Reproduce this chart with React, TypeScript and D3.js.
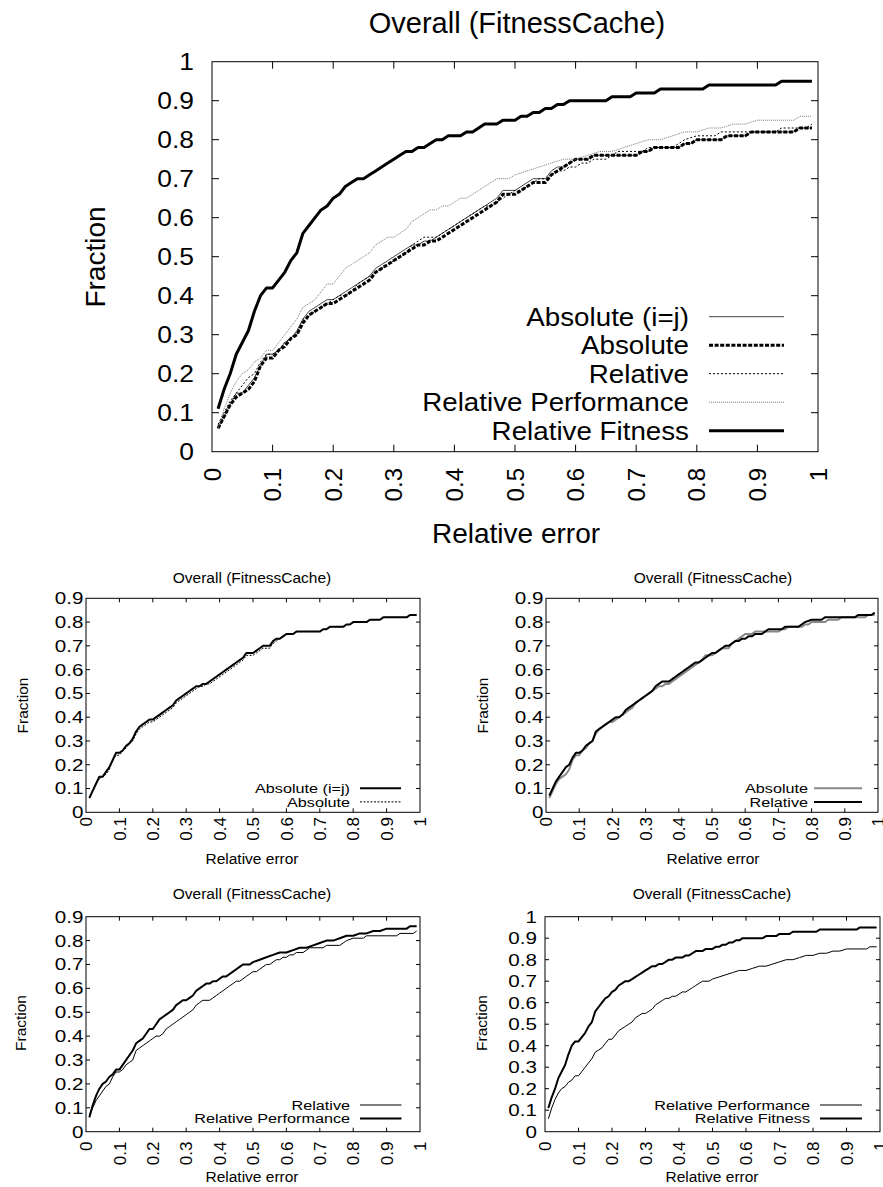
import React from 'react';
import * as d3 from 'd3';

// ---------- data ----------
const X_TICKS = [0, 0.1, 0.2, 0.3, 0.4, 0.5, 0.6, 0.7, 0.8, 0.9, 1];
const X_TICK_LABELS = ['0', '0.1', '0.2', '0.3', '0.4', '0.5', '0.6', '0.7', '0.8', '0.9', '1'];
const Y_TICKS_10 = [0, 0.1, 0.2, 0.3, 0.4, 0.5, 0.6, 0.7, 0.8, 0.9, 1];
const Y_TICK_LABELS_10 = ['0', '0.1', '0.2', '0.3', '0.4', '0.5', '0.6', '0.7', '0.8', '0.9', '1'];
const Y_TICKS_09 = [0, 0.1, 0.2, 0.3, 0.4, 0.5, 0.6, 0.7, 0.8, 0.9];
const Y_TICK_LABELS_09 = ['0', '0.1', '0.2', '0.3', '0.4', '0.5', '0.6', '0.7', '0.8', '0.9'];

const TITLE = 'Overall (FitnessCache)';
const X_LABEL = 'Relative error';
const Y_LABEL = 'Fraction';

const absoluteIJ: [number, number][] = [
  [0.01, 0.06], [0.02, 0.09], [0.03, 0.12], [0.04, 0.15], [0.05, 0.15], [0.06, 0.17], [0.07, 0.19],
  [0.08, 0.22], [0.09, 0.25], [0.10, 0.25], [0.11, 0.26], [0.12, 0.28], [0.13, 0.29], [0.14, 0.31],
  [0.15, 0.34], [0.16, 0.36], [0.17, 0.37], [0.18, 0.38], [0.19, 0.39], [0.20, 0.39], [0.21, 0.40],
  [0.22, 0.41], [0.23, 0.42], [0.24, 0.43], [0.25, 0.44], [0.26, 0.45], [0.27, 0.47], [0.28, 0.48],
  [0.29, 0.49], [0.30, 0.50], [0.31, 0.51], [0.32, 0.52], [0.33, 0.53], [0.34, 0.53], [0.35, 0.54],
  [0.36, 0.54], [0.37, 0.55], [0.38, 0.56], [0.39, 0.57], [0.40, 0.58], [0.41, 0.59], [0.42, 0.60],
  [0.43, 0.61], [0.44, 0.62], [0.45, 0.63], [0.46, 0.64], [0.47, 0.65], [0.48, 0.67], [0.50, 0.67],
  [0.51, 0.68], [0.52, 0.69], [0.53, 0.70], [0.55, 0.70], [0.56, 0.72], [0.57, 0.73], [0.58, 0.73],
  [0.59, 0.74], [0.60, 0.75], [0.62, 0.75], [0.63, 0.76], [0.70, 0.76], [0.71, 0.77], [0.72, 0.77],
  [0.73, 0.78], [0.77, 0.78], [0.78, 0.79], [0.79, 0.79], [0.80, 0.80], [0.84, 0.80], [0.85, 0.81],
  [0.88, 0.81], [0.89, 0.82], [0.96, 0.82], [0.97, 0.83], [0.99, 0.83],
];

const absolute: [number, number][] = [
  [0.01, 0.06], [0.02, 0.09], [0.03, 0.12], [0.04, 0.14], [0.05, 0.15], [0.06, 0.16], [0.07, 0.18],
  [0.08, 0.22], [0.09, 0.24], [0.10, 0.24], [0.11, 0.26], [0.12, 0.27], [0.13, 0.29], [0.14, 0.30],
  [0.15, 0.33], [0.16, 0.35], [0.17, 0.36], [0.18, 0.37], [0.19, 0.38], [0.20, 0.38], [0.21, 0.39],
  [0.22, 0.40], [0.23, 0.41], [0.24, 0.42], [0.25, 0.43], [0.26, 0.44], [0.27, 0.46], [0.28, 0.47],
  [0.29, 0.48], [0.30, 0.49], [0.31, 0.50], [0.32, 0.51], [0.33, 0.52], [0.34, 0.53], [0.35, 0.53],
  [0.36, 0.54], [0.37, 0.54], [0.38, 0.55], [0.39, 0.56], [0.40, 0.57], [0.41, 0.58], [0.42, 0.59],
  [0.43, 0.60], [0.44, 0.61], [0.45, 0.62], [0.46, 0.63], [0.47, 0.64], [0.48, 0.66], [0.50, 0.66],
  [0.51, 0.67], [0.52, 0.68], [0.53, 0.69], [0.55, 0.69], [0.56, 0.71], [0.57, 0.72], [0.58, 0.73],
  [0.59, 0.74], [0.60, 0.75], [0.62, 0.75], [0.63, 0.76], [0.70, 0.76], [0.71, 0.77], [0.72, 0.77],
  [0.73, 0.78], [0.77, 0.78], [0.78, 0.79], [0.79, 0.79], [0.80, 0.80], [0.84, 0.80], [0.85, 0.81],
  [0.88, 0.81], [0.89, 0.82], [0.96, 0.82], [0.97, 0.83], [0.99, 0.83],
];

const relative: [number, number][] = [
  [0.01, 0.07], [0.02, 0.10], [0.03, 0.13], [0.04, 0.15], [0.05, 0.17], [0.06, 0.19], [0.07, 0.20],
  [0.08, 0.23], [0.09, 0.25], [0.10, 0.25], [0.11, 0.26], [0.12, 0.28], [0.13, 0.29], [0.14, 0.30],
  [0.15, 0.34], [0.16, 0.35], [0.17, 0.36], [0.18, 0.37], [0.19, 0.38], [0.20, 0.39], [0.21, 0.40],
  [0.22, 0.40], [0.23, 0.41], [0.24, 0.43], [0.25, 0.44], [0.26, 0.45], [0.27, 0.46], [0.28, 0.47],
  [0.29, 0.48], [0.30, 0.49], [0.31, 0.50], [0.32, 0.51], [0.33, 0.53], [0.34, 0.54], [0.35, 0.55],
  [0.37, 0.55], [0.38, 0.56], [0.39, 0.57], [0.40, 0.58], [0.41, 0.59], [0.42, 0.60], [0.43, 0.61],
  [0.44, 0.62], [0.45, 0.63], [0.46, 0.63], [0.47, 0.64], [0.48, 0.65], [0.49, 0.66], [0.50, 0.67],
  [0.51, 0.67], [0.52, 0.68], [0.53, 0.69], [0.54, 0.70], [0.55, 0.70], [0.56, 0.71], [0.57, 0.72],
  [0.58, 0.72], [0.59, 0.73], [0.60, 0.73], [0.61, 0.74], [0.62, 0.74], [0.63, 0.75], [0.65, 0.75],
  [0.66, 0.76], [0.67, 0.77], [0.71, 0.77], [0.72, 0.78], [0.76, 0.78], [0.77, 0.79], [0.78, 0.80],
  [0.80, 0.81], [0.83, 0.81], [0.84, 0.82], [0.93, 0.82], [0.94, 0.83], [0.98, 0.83], [0.99, 0.84],
];

const relativePerformance: [number, number][] = [
  [0.01, 0.06], [0.02, 0.11], [0.03, 0.15], [0.04, 0.18], [0.05, 0.20], [0.06, 0.21], [0.07, 0.23],
  [0.08, 0.24], [0.09, 0.26], [0.10, 0.26], [0.11, 0.28], [0.12, 0.30], [0.13, 0.32], [0.14, 0.34],
  [0.15, 0.37], [0.16, 0.38], [0.17, 0.39], [0.18, 0.41], [0.19, 0.43], [0.20, 0.43], [0.21, 0.45],
  [0.22, 0.47], [0.23, 0.48], [0.24, 0.49], [0.25, 0.50], [0.26, 0.51], [0.27, 0.53], [0.28, 0.54],
  [0.29, 0.55], [0.30, 0.55], [0.31, 0.56], [0.32, 0.57], [0.33, 0.59], [0.34, 0.60], [0.35, 0.61],
  [0.36, 0.62], [0.37, 0.62], [0.38, 0.63], [0.39, 0.63], [0.40, 0.64], [0.41, 0.65], [0.42, 0.65],
  [0.43, 0.66], [0.44, 0.67], [0.45, 0.68], [0.46, 0.69], [0.47, 0.70], [0.49, 0.70], [0.50, 0.71],
  [0.52, 0.72], [0.54, 0.73], [0.56, 0.74], [0.58, 0.75], [0.60, 0.75], [0.62, 0.76], [0.64, 0.77],
  [0.66, 0.77], [0.68, 0.78], [0.70, 0.79], [0.72, 0.80], [0.74, 0.80], [0.76, 0.81], [0.78, 0.82],
  [0.80, 0.82], [0.82, 0.83], [0.84, 0.83], [0.86, 0.84], [0.88, 0.84], [0.90, 0.85], [0.96, 0.85],
  [0.97, 0.86], [0.99, 0.86],
];

const relativeFitness: [number, number][] = [
  [0.01, 0.11], [0.02, 0.16], [0.03, 0.20], [0.04, 0.25], [0.05, 0.28], [0.06, 0.31], [0.07, 0.36],
  [0.08, 0.40], [0.09, 0.42], [0.10, 0.42], [0.11, 0.44], [0.12, 0.46], [0.13, 0.49], [0.14, 0.51],
  [0.15, 0.56], [0.16, 0.58], [0.17, 0.60], [0.18, 0.62], [0.19, 0.63], [0.20, 0.65], [0.21, 0.66],
  [0.22, 0.68], [0.23, 0.69], [0.24, 0.70], [0.25, 0.70], [0.26, 0.71], [0.27, 0.72], [0.28, 0.73],
  [0.29, 0.74], [0.30, 0.75], [0.31, 0.76], [0.32, 0.77], [0.33, 0.77], [0.34, 0.78], [0.35, 0.78],
  [0.36, 0.79], [0.37, 0.80], [0.38, 0.80], [0.39, 0.81], [0.41, 0.81], [0.42, 0.82], [0.43, 0.82],
  [0.44, 0.83], [0.45, 0.84], [0.47, 0.84], [0.48, 0.85], [0.50, 0.85], [0.51, 0.86], [0.52, 0.86],
  [0.53, 0.87], [0.54, 0.87], [0.55, 0.88], [0.56, 0.88], [0.57, 0.89], [0.58, 0.89], [0.59, 0.90],
  [0.65, 0.90], [0.66, 0.91], [0.69, 0.91], [0.70, 0.92], [0.73, 0.92], [0.74, 0.93], [0.81, 0.93],
  [0.82, 0.94], [0.93, 0.94], [0.94, 0.95], [0.99, 0.95],
];

// ---------- rendering ----------
const FONT = "'Liberation Sans', Arial, Helvetica, sans-serif";

type Series = { name: string; data: [number, number][]; stroke: string; width: number; dash?: string };

type PanelProps = {
  left: number; right: number; top: number; bottom: number;
  yMax: number; yTicks: number[]; yLabels: string[];
  tickLen: number;
  titleX: number; titleY: number; titleSize: number;
  yTickRight: number; yTickFont: number; yTickScale: number;
  xTickTop: number; xTickFont: number;
  xLabelX: number; xLabelY: number; labelFont: number;
  fracX: number; fracY: number;
  series: Series[];
  legTextX: number; legX1: number; legX2: number; legY0: number; legDy: number;
  legFont: number; legScale: number;
};

function Panel(p: PanelProps) {
  const x = d3.scaleLinear().domain([0, 1]).range([p.left, p.right]);
  const y = d3.scaleLinear().domain([0, p.yMax]).range([p.bottom, p.top]);
  const line = d3.line<[number, number]>().x((d) => x(d[0])).y((d) => y(d[1]));
  return (
    <g fontFamily={FONT} fill="#000">
      <text x={p.titleX} y={p.titleY} fontSize={p.titleSize} textAnchor="middle">{TITLE}</text>
      {p.yTicks.map((t, i) => (
        <g key={'y' + i}>
          {i > 0 && y(t) > p.top + 0.5 ? (
            <>
              <line x1={p.left} x2={p.left + p.tickLen} y1={y(t)} y2={y(t)} stroke="#000" strokeWidth={1} />
              <line x1={p.right} x2={p.right - p.tickLen} y1={y(t)} y2={y(t)} stroke="#000" strokeWidth={1} />
            </>
          ) : null}
          <text
            transform={`translate(${p.yTickRight},${y(t)}) scale(${p.yTickScale},1)`}
            fontSize={p.yTickFont}
            textAnchor="end"
            dy="0.36em"
          >
            {p.yLabels[i]}
          </text>
        </g>
      ))}
      {X_TICKS.map((t, i) => (
        <g key={'x' + i}>
          {i > 0 && i < X_TICKS.length - 1 ? (
            <>
              <line x1={x(t)} x2={x(t)} y1={p.bottom} y2={p.bottom - p.tickLen} stroke="#000" strokeWidth={1} />
              <line x1={x(t)} x2={x(t)} y1={p.top} y2={p.top + p.tickLen} stroke="#000" strokeWidth={1} />
            </>
          ) : null}
          <text
            transform={`translate(${x(t)},${p.xTickTop}) rotate(-90)`}
            fontSize={p.xTickFont}
            textAnchor="end"
            dy="0.36em"
          >
            {X_TICK_LABELS[i]}
          </text>
        </g>
      ))}
      {p.series.map((s) => (
        <path
          key={s.name}
          d={line(s.data) || ''}
          fill="none"
          stroke={s.stroke}
          strokeWidth={s.width}
          strokeDasharray={s.dash}
          strokeLinejoin="round"
        />
      ))}
      <rect x={p.left} y={p.top} width={p.right - p.left} height={p.bottom - p.top} fill="none" stroke="#000" strokeWidth={1} />
      <text x={p.xLabelX} y={p.xLabelY} fontSize={p.labelFont} textAnchor="middle" dy="0.36em">{X_LABEL}</text>
      <text transform={`translate(${p.fracX},${p.fracY}) rotate(-90)`} fontSize={p.labelFont} textAnchor="middle" dy="0.36em">
        {Y_LABEL}
      </text>
      {p.series.map((s, i) => {
        const ly = p.legY0 + i * p.legDy;
        return (
          <g key={'leg' + s.name}>
            <text transform={`translate(${p.legTextX},${ly}) scale(${p.legScale},1)`} fontSize={p.legFont} textAnchor="end" dy="0.36em">
              {s.name}
            </text>
            <line x1={p.legX1} x2={p.legX2} y1={ly} y2={ly} stroke={s.stroke} strokeWidth={s.width} strokeDasharray={s.dash} />
          </g>
        );
      })}
    </g>
  );
}

export default function App() {
  const small = {
    tickLen: 4,
    titleSize: 15.5,
    yTickFont: 16.5,
    yTickScale: 1.25,
    xTickFont: 17,
    labelFont: 15.5,
    legFont: 13.5,
    legScale: 1.2,
    legDy: 13.6,
  };
  return (
    <svg
      width={883}
      height={1187}
      style={{ position: 'absolute', left: 0, top: 0, background: '#fff' }}
    >
      <rect x={0} y={0} width={883} height={1187} fill="#fff" />
      <Panel
        left={212} right={818} top={61.7} bottom={451.7}
        yMax={1} yTicks={Y_TICKS_10} yLabels={Y_TICK_LABELS_10}
        tickLen={7}
        titleX={517} titleY={33} titleSize={29}
        yTickRight={194} yTickFont={24} yTickScale={1.1}
        xTickTop={468} xTickFont={24}
        xLabelX={516} xLabelY={533} labelFont={28}
        fracX={95} fracY={257}
        series={[
          { name: 'Absolute (i=j)', data: absoluteIJ, stroke: '#444', width: 1 },
          { name: 'Absolute', data: absolute, stroke: '#000', width: 3, dash: '4,1.6' },
          { name: 'Relative', data: relative, stroke: '#000', width: 1, dash: '2,2' },
          { name: 'Relative Performance', data: relativePerformance, stroke: '#777', width: 1, dash: '1,1' },
          { name: 'Relative Fitness', data: relativeFitness, stroke: '#000', width: 3 },
        ]}
        legTextX={689} legX1={709} legX2={784} legY0={316.7} legDy={28.5}
        legFont={25} legScale={1.11}
      />
      <Panel
        {...small}
        left={86} right={420} top={598.3} bottom={812.3}
        yMax={0.9} yTicks={Y_TICKS_09} yLabels={Y_TICK_LABELS_09}
        titleX={252} titleY={582.5}
        yTickRight={83.5}
        xTickTop={817}
        xLabelX={252} xLabelY={858}
        fracX={22} fracY={705.5}
        series={[
          { name: 'Absolute (i=j)', data: absoluteIJ, stroke: '#000', width: 2 },
          { name: 'Absolute', data: absolute, stroke: '#000', width: 1, dash: '2,1.5' },
        ]}
        legTextX={350} legX1={360} legX2={401} legY0={788.3}
      />
      <Panel
        {...small}
        left={546} right={878} top={598.3} bottom={812.3}
        yMax={0.9} yTicks={Y_TICKS_09} yLabels={Y_TICK_LABELS_09}
        titleX={713} titleY={582.5}
        yTickRight={543.5}
        xTickTop={817}
        xLabelX={713} xLabelY={858}
        fracX={482} fracY={705.5}
        series={[
          { name: 'Absolute', data: absolute, stroke: '#888', width: 2 },
          { name: 'Relative', data: relative, stroke: '#000', width: 2 },
        ]}
        legTextX={808} legX1={814} legX2={862} legY0={788.3}
      />
      <Panel
        {...small}
        left={86} right={420} top={916.7} bottom={1131.7}
        yMax={0.9} yTicks={Y_TICKS_09} yLabels={Y_TICK_LABELS_09}
        titleX={252} titleY={899}
        yTickRight={83.5}
        xTickTop={1141.5}
        xLabelX={252} xLabelY={1176.7}
        fracX={20} fracY={1023}
        series={[
          { name: 'Relative', data: relative, stroke: '#000', width: 1 },
          { name: 'Relative Performance', data: relativePerformance, stroke: '#000', width: 2 },
        ]}
        legTextX={350} legX1={360} legX2={401.5} legY0={1105}
      />
      <Panel
        {...small}
        left={545} right={880} top={916.7} bottom={1131.7}
        yMax={1} yTicks={Y_TICKS_10} yLabels={Y_TICK_LABELS_10}
        titleX={712} titleY={899}
        yTickRight={537}
        xTickTop={1141.5}
        xLabelX={712} xLabelY={1176.7}
        fracX={481} fracY={1023}
        series={[
          { name: 'Relative Performance', data: relativePerformance, stroke: '#000', width: 1 },
          { name: 'Relative Fitness', data: relativeFitness, stroke: '#000', width: 2 },
        ]}
        legTextX={810} legX1={820} legX2={862} legY0={1105}
      />
    </svg>
  );
}
